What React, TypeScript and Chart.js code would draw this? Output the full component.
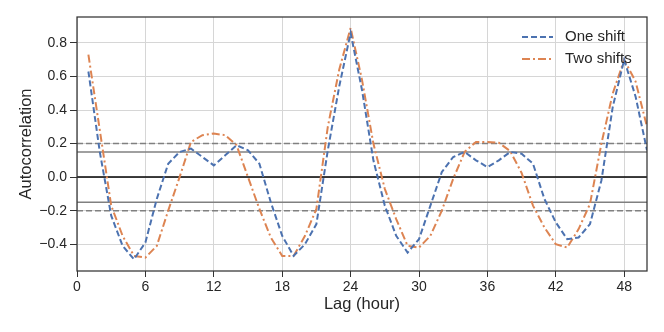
import React, { useEffect, useRef } from "react";
import { Chart, registerables } from "chart.js";

Chart.register(...registerables);

const lags = [1, 2, 3, 4, 5, 6, 7, 8, 9, 10, 11, 12, 13, 14, 15, 16, 17, 18, 19, 20, 21, 22, 23, 24, 25, 26, 27, 28, 29, 30, 31, 32, 33, 34, 35, 36, 37, 38, 39, 40, 41, 42, 43, 44, 45, 46, 47, 48, 49, 50];

const oneShift = [0.63, 0.15, -0.23, -0.41, -0.49, -0.39, -0.13, 0.08, 0.15, 0.17, 0.12, 0.07, 0.13, 0.19, 0.16, 0.08, -0.15, -0.35, -0.47, -0.4, -0.28, 0.16, 0.54, 0.86, 0.52, 0.1, -0.17, -0.35, -0.45, -0.37, -0.17, 0.03, 0.12, 0.15, 0.1, 0.06, 0.1, 0.15, 0.14, 0.08, -0.13, -0.27, -0.37, -0.36, -0.28, -0.02, 0.42, 0.7, 0.48, 0.16];

const twoShifts = [0.73, 0.28, -0.17, -0.35, -0.47, -0.48, -0.41, -0.2, 0.0, 0.21, 0.25, 0.26, 0.25, 0.19, 0.0, -0.19, -0.36, -0.47, -0.47, -0.35, -0.19, 0.3, 0.64, 0.89, 0.58, 0.2, -0.07, -0.25, -0.41, -0.42, -0.35, -0.2, -0.01, 0.15, 0.21, 0.21, 0.205, 0.155, 0.025, -0.17, -0.3, -0.4, -0.42, -0.31, -0.16, 0.2, 0.5, 0.7, 0.57, 0.3];

const seriesNames = ["One shift", "Two shifts"];
const xTicks = [0, 6, 12, 18, 24, 30, 36, 42, 48];
const yTicks = [-0.4, -0.2, 0.0, 0.2, 0.4, 0.6, 0.8];
const dashedRefs = [0.2, -0.2];
const solidRefs = [0.15, -0.15];
const zeroRefs = [0];

const BLUE = "#4C72B0";
const ORANGE = "#DD8452";
const FONT = "'Liberation Sans', Arial, sans-serif";
const TEXT = "#262626";

const refLinesPlugin = {
  id: "refLines",
  beforeDatasetsDraw(chart: any) {
    const { ctx, chartArea, scales } = chart;
    const y = scales.y;
    const draw = (v: number, color: string, width: number, dash: number[]) => {
      const py = y.getPixelForValue(v);
      ctx.save();
      ctx.strokeStyle = color;
      ctx.lineWidth = width;
      ctx.setLineDash(dash);
      ctx.beginPath();
      ctx.moveTo(chartArea.left, py);
      ctx.lineTo(chartArea.right, py);
      ctx.stroke();
      ctx.restore();
    };
    dashedRefs.forEach((v) => draw(v, "#808080", 1.5, [6, 3]));
    solidRefs.forEach((v) => draw(v, "#808080", 1.5, []));
    zeroRefs.forEach((v) => draw(v, "#000000", 1.5, []));
  },
  afterDraw(chart: any) {
    const { ctx, chartArea } = chart;
    ctx.save();
    ctx.strokeStyle = "#333333";
    ctx.lineWidth = 1.25;
    ctx.strokeRect(chartArea.left, chartArea.top, chartArea.right - chartArea.left, chartArea.bottom - chartArea.top);
    const items = [
      { label: seriesNames[0], color: BLUE, dash: [6, 3] },
      { label: seriesNames[1], color: ORANGE, dash: [8, 3, 2, 3] },
    ];
    const lx = chartArea.right - 125;
    items.forEach((it, i) => {
      const ly = chartArea.top + 20 + i * 22;
      ctx.strokeStyle = it.color;
      ctx.lineWidth = 2;
      ctx.setLineDash(it.dash);
      ctx.beginPath();
      ctx.moveTo(lx, ly);
      ctx.lineTo(lx + 31, ly);
      ctx.stroke();
      ctx.setLineDash([]);
      ctx.fillStyle = TEXT;
      ctx.font = `15px ${FONT}`;
      ctx.textBaseline = "middle";
      ctx.textAlign = "left";
      ctx.fillText(it.label, lx + 43, ly);
    });
    ctx.restore();
  },
};

function fmt(v: number) {
  const s = Math.abs(v).toFixed(1);
  return v < -1e-9 ? "\u2212" + s : s;
}

export default function App() {
  const ref = useRef<HTMLCanvasElement | null>(null);
  useEffect(() => {
    if (!ref.current) return;
    const chart = new Chart(ref.current, {
      type: "line",
      data: {
        labels: lags,
        datasets: [
          {
            label: seriesNames[0],
            data: lags.map((x, i) => ({ x, y: oneShift[i] })),
            borderColor: BLUE,
            borderWidth: 2,
            borderDash: [6, 3],
            pointRadius: 0,
            tension: 0,
            fill: false,
          },
          {
            label: seriesNames[1],
            data: lags.map((x, i) => ({ x, y: twoShifts[i] })),
            borderColor: ORANGE,
            borderWidth: 2,
            borderDash: [8, 3, 2, 3],
            pointRadius: 0,
            tension: 0,
            fill: false,
          },
        ],
      },
      options: {
        animation: false,
        responsive: false,
        maintainAspectRatio: false,
        layout: { padding: { top: 17, right: 17, left: 0, bottom: 0 } },
        plugins: { legend: { display: false }, tooltip: { enabled: false } },
        scales: {
          x: {
            type: "linear",
            min: 0,
            max: 50,
            afterBuildTicks: (s: any) => {
              s.ticks = xTicks.map((v) => ({ value: v }));
            },
            afterFit: (s: any) => {
              s.height = 61;
            },
            grid: { color: "#d6d6d6", lineWidth: 1, tickColor: "#333333", tickLength: 6 },
            border: { display: false },
            ticks: { color: TEXT, font: { family: FONT, size: 14 }, padding: 2, maxRotation: 0, autoSkip: false, callback: (v: any) => String(v) },
            title: { display: true, text: "Lag (hour)", color: TEXT, font: { family: FONT, size: 16.5 }, padding: { top: 0, bottom: 18 } },
          },
          y: {
            type: "linear",
            min: -0.56,
            max: 0.955,
            afterBuildTicks: (s: any) => {
              s.ticks = yTicks.map((v) => ({ value: v }));
            },
            afterFit: (s: any) => {
              s.width = 77;
            },
            grid: { color: "#d6d6d6", lineWidth: 1, tickColor: "#333333", tickLength: 7 },
            border: { display: false },
            ticks: { color: TEXT, font: { family: FONT, size: 14 }, padding: 3, callback: (v: any) => fmt(Number(v)) },
            title: { display: true, text: "Autocorrelation", color: TEXT, font: { family: FONT, size: 16.5 }, padding: { top: 17, bottom: 0 } },
          },
        },
      },
      plugins: [refLinesPlugin],
    });
    return () => chart.destroy();
  }, []);
  return (
    <div style={{ position: "fixed", left: 0, top: 0, width: 664, height: 332, background: "#fff" }}>
      <canvas ref={ref} width={664} height={332} style={{ width: 664, height: 332, display: "block" }} />
    </div>
  );
}
